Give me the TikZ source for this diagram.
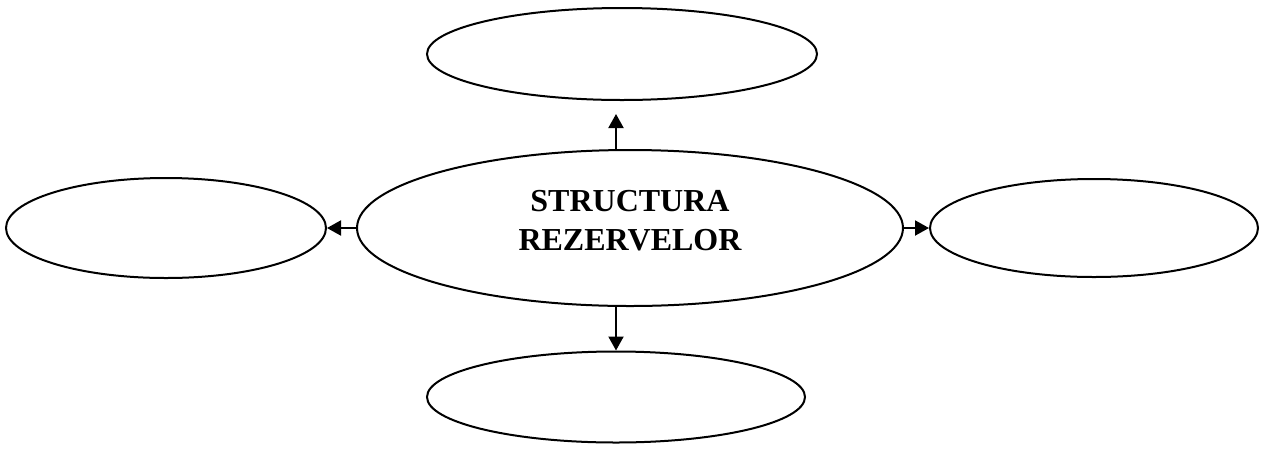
\documentclass[tikz,border=0pt]{standalone}
\usepackage{fontspec}
\setmainfont{Liberation Serif}
\usetikzlibrary{arrows.meta,shapes.geometric}

\begin{document}
\begin{tikzpicture}[x=1pt, y=-1pt, >={Triangle[length=14pt,width=15pt]},
            oval/.style={draw, ellipse, line width=2pt, inner sep=0pt},
            arr/.style={->, line width=2pt}]
            \useasboundingbox (0,0) rectangle (1264,451);

            % centrul
            \node[oval, minimum width=546pt, minimum height=156pt, align=center,
                  font=\fontsize{32}{39}\selectfont\bfseries, text depth=15pt]
                  (main) at (630,228) {STRUCTURA\\REZERVELOR};

            % ramurile goale
            \node[oval, minimum width=390pt, minimum height=92pt] (top) at (622,54) {};
            \node[oval, minimum width=320pt, minimum height=100pt] (left) at (166,228) {};
            \node[oval, minimum width=328pt, minimum height=98pt] (right) at (1094,228) {};
            \node[oval, minimum width=378pt, minimum height=91pt] (bot) at (616,397) {};

            % sagetile
            \draw[arr, shorten >=13pt] (main.north -| bot) -- (top.south -| bot);
            \draw[arr] (main.south -| bot) -- (bot.north);
            \draw[arr] (main.west) -- (left.east);
            \draw[arr] (main.east) -- (right.west);
        \end{tikzpicture}
\end{document}
